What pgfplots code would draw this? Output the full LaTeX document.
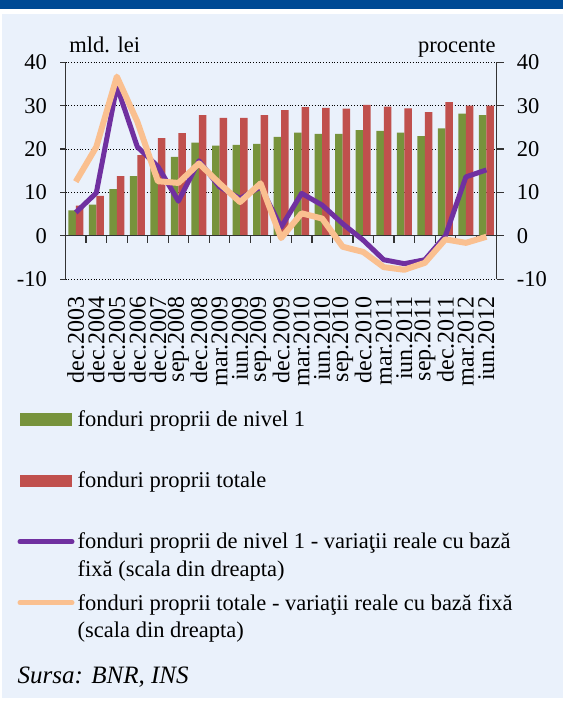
\documentclass[border=0pt]{standalone}
\usepackage{pgfplots}
\pgfplotsset{compat=1.18}
\usepackage{fontspec}
\setmainfont{Liberation Serif}
\definecolor{cgreen}{RGB}{119,147,60}
\definecolor{cred}{RGB}{192,80,77}
\definecolor{cpurple}{RGB}{112,48,160}
\definecolor{corange}{RGB}{250,192,144}
\definecolor{cbg}{RGB}{234,241,251}
\definecolor{cband}{RGB}{0,74,148}
\newcommand{\fs}{\fontsize{11.25pt}{14pt}\selectfont}
\newcommand{\fx}{\fontsize{12pt}{14pt}\selectfont}
\begin{document}
\begin{tikzpicture}[font=\fs]
\useasboundingbox (0,0) rectangle (281.5pt,-352.5pt);
\fill[white] (0,0) rectangle (281.5pt,-352.5pt);
\fill[cband] (0,0) rectangle (281.5pt,-4.5pt);
\fill[cbg] (1.2pt,-7pt) rectangle (281.5pt,-349pt);
% left axis: bars
\begin{axis}[
  at={(32.75pt,-139.65pt)}, anchor=south west,
  width=215.6pt, height=108.5pt, scale only axis,
  xmin=-0.5, xmax=20.5, ymin=-10, ymax=40,
  axis y line*=left, axis x line*=bottom,
  x axis line style={draw=none},
  y axis line style={black!80, line width=0.6pt},
  xtick={0,...,20},
  xticklabels={dec.2003,dec.2004,dec.2005,dec.2006,dec.2007,sep.2008,dec.2008,mar.2009,iun.2009,sep.2009,dec.2009,mar.2010,iun.2010,sep.2010,dec.2010,mar.2011,iun.2011,sep.2011,dec.2011,mar.2012,iun.2012},
  x tick label style={rotate=90, anchor=east, xshift=-4.5pt, inner sep=1pt, font=\fx},
  major x tick style={draw=none},
  ytick={-10,0,...,40},
  y tick label style={xshift=-3pt, font=\fs},
  /pgf/number format/assume math mode=true,
  tick align=outside, major tick length=2.75pt,
  ytick style={black!80, line width=0.6pt},
  ymajorgrids, grid style={black, densely dotted, line width=0.5pt},
  ybar=0pt, bar width=3.75pt,
]
\addplot[fill=cgreen, draw=none] coordinates {
(0,5.9) (1,7.2) (2,10.8) (3,13.8) (4,16.0) (5,18.2) (6,21.5) (7,20.8) (8,21.0) (9,21.2) (10,22.8)
(11,23.8) (12,23.5) (13,23.5) (14,24.4) (15,24.2) (16,23.8) (17,23.0) (18,24.8) (19,28.2) (20,27.8)};
\addplot[fill=cred, draw=none] coordinates {
(0,7.0) (1,9.2) (2,13.8) (3,18.6) (4,22.5) (5,23.7) (6,27.8) (7,27.2) (8,27.2) (9,27.8) (10,29.0)
(11,29.7) (12,29.5) (13,29.3) (14,30.2) (15,29.8) (16,29.4) (17,28.5) (18,30.8) (19,30.0) (20,30.0)};
\end{axis}
% right axis: lines
\begin{axis}[
  at={(32.75pt,-139.65pt)}, anchor=south west,
  width=215.6pt, height=108.5pt, scale only axis,
  xmin=-0.5, xmax=20.5, ymin=-10, ymax=40,
  axis y line*=right, axis x line=middle,
  x axis line style={-, black!80, line width=0.6pt},
  y axis line style={black!80, line width=0.6pt},
  xtick={-0.5,0.5,...,20.5}, xticklabels={},
  ytick={-10,0,...,40},
  y tick label style={xshift=3pt, font=\fs},
  /pgf/number format/assume math mode=true,
  tick align=outside, major tick length=3.5pt,
  tick style={black!80, line width=0.6pt},
]
\addplot[cpurple, line width=2.5pt, line join=round] coordinates {
(0,5.4) (1,9.9) (2,34.5) (3,20.5) (4,16.0) (5,8.0) (6,17.3) (7,11.3) (8,8.6) (9,11.3) (10,2.0)
(11,9.8) (12,7.1) (13,2.8) (14,-1.0) (15,-5.5) (16,-6.4) (17,-5.5) (18,0.0) (19,13.6) (20,15.2)};
\addplot[corange, line width=3pt, line join=round] coordinates {
(0,12.5) (1,20.5) (2,36.7) (3,26.3) (4,12.6) (5,12.2) (6,16.7) (7,12.1) (8,7.8) (9,12.1) (10,-0.5)
(11,5.2) (12,4.0) (13,-2.5) (14,-3.7) (15,-7.2) (16,-7.8) (17,-6.2) (18,-0.8) (19,-1.6) (20,-0.2)};
\end{axis}
% unit labels
\node[anchor=base west, inner sep=0pt] at (34.5pt,-26.5pt) {mld. lei};
\node[anchor=base east, inner sep=0pt] at (248pt,-26.5pt) {procente};
% legend
\fill[cgreen] (10pt,-206.65pt) rectangle (35.85pt,-212.85pt);
\node[anchor=base west, inner sep=0pt] at (38.65pt,-213pt) {fonduri proprii de nivel 1};
\fill[cred] (10pt,-237.5pt) rectangle (35.85pt,-243.65pt);
\node[anchor=base west, inner sep=0pt] at (38.65pt,-243.8pt) {fonduri proprii totale};
\draw[cpurple, line width=2.5pt, line cap=round] (10pt,-270.85pt) -- (36pt,-270.85pt);
\node[anchor=base west, inner sep=0pt] at (38.65pt,-274pt) {fonduri proprii de nivel 1 - variaţii reale cu bază};
\node[anchor=base west, inner sep=0pt] at (38.65pt,-288pt) {fixă (scala din dreapta)};
\draw[corange, line width=2.5pt, line cap=round] (10pt,-301.35pt) -- (36pt,-301.35pt);
\node[anchor=base west, inner sep=0pt] at (38.65pt,-305pt) {fonduri proprii totale - variaţii reale cu bază fixă};
\node[anchor=base west, inner sep=0pt] at (38.65pt,-318.85pt) {(scala din dreapta)};
\node[anchor=base west, inner sep=0pt, font=\fontsize{12.5pt}{14pt}\selectfont\itshape] at (8.67pt,-341.5pt) {Sursa: BNR, INS};
\end{tikzpicture}
\end{document}
